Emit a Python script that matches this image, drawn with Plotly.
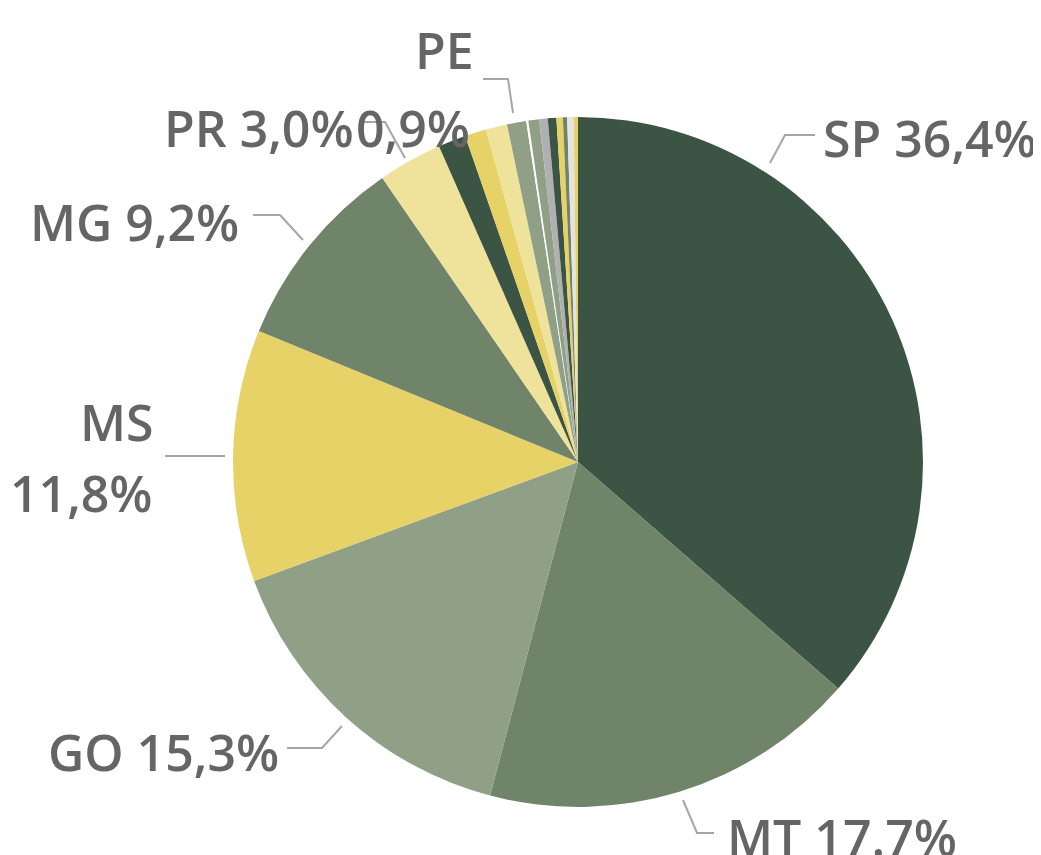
import plotly.graph_objects as go

# 各州占比(%)
states = ["SP", "MT", "GO", "MS", "MG", "PR", "BA", "TO", "MA", "PE",
          "RS", "PA", "RO", "SC", "AL", "PI", "RJ", "DF"]
shares = [36.4, 17.7, 15.3, 11.8, 9.2, 3.0, 1.3, 1.0, 1.0, 0.9,
          0.1, 0.5, 0.4, 0.4, 0.3, 0.2, 0.3, 0.2]
colors = ["#3C5443", "#70846A", "#8FA087", "#E7D267", "#70846A", "#EFE29A",
          "#3C5443", "#E7D267", "#EFE29A", "#8FA087", "#FFFFFF", "#8FA087",
          "#B0B0B0", "#3C5443", "#E7D267", "#70846A", "#E3E3E3", "#E7D267"]

W, H = 1033, 847
OFF = 8  # 页面body默认边距
cx, cy, r = 578 - OFF, 462 - OFF, 345

fig = go.Figure(go.Pie(
    labels=states, values=shares, sort=False, direction="clockwise",
    rotation=0, textinfo="none", hoverinfo="label+percent",
    marker=dict(colors=colors, line=dict(width=0)),
    domain=dict(x=[(cx - r) / W, (cx + r) / W],
                y=[(H - cy - r) / H, (H - cy + r) / H]),
    showlegend=False,
))

def px(x, y):
    return (x - OFF) / W, 1 - (y - OFF) / H

# 标签: 文字, x, y, 锚点
labels = [
    ("SP 36,4%", 821, 138, "left"),
    ("MT 17.7%", 725, 837, "left"),
    ("GO 15,3%", 281, 752, "right"),
    ("MS", 156, 422, "right"),
    ("11,8%", 155, 493, "right"),
    ("MG 9,2%", 241, 222, "right"),
    ("PR 3,0%", 356, 128, "right"),
    ("PE", 476, 50, "right"),
    ("0,9%", 472, 128, "right"),
]
for txt, x, y, anchor in labels:
    ax_, ay_ = px(x, y)
    fig.add_annotation(text=txt, x=ax_, y=ay_, xref="paper", yref="paper",
                       xanchor=anchor, yanchor="middle", showarrow=False,
                       font=dict(size=50, color="#656565", family="Open Sans",
                                 weight=600))

# 引导线
leaders = [
    [(770, 163), (785, 135), (815, 135)],
    [(683, 800), (697, 833), (714, 833)],
    [(287, 748), (322, 748), (342, 726)],
    [(165, 456), (225, 456)],
    [(253, 215), (280, 215), (303, 240)],
    [(363, 122), (385, 122), (405, 158)],
    [(483, 79), (508, 79), (513, 113)],
]
for pts in leaders:
    path = " ".join(("M" if i == 0 else "L") + f"{px(x, y)[0]},{px(x, y)[1]}"
                    for i, (x, y) in enumerate(pts))
    fig.add_shape(type="path", path=path, xref="paper", yref="paper",
                  line=dict(color="#A6A6A6", width=2))

fig.update_layout(width=W, height=H, margin=dict(l=0, r=0, t=0, b=0),
                  paper_bgcolor="white", plot_bgcolor="white")

fig.write_html("out.html")
